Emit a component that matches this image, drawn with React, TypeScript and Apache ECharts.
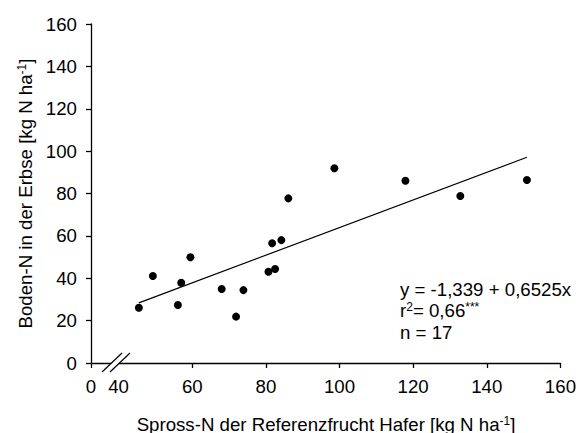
import React, { useEffect, useRef } from "react";
import * as echarts from "echarts";

const xValues = [45.5, 49.3, 56.1, 57.0, 59.5, 68.0, 71.9, 73.9, 80.7, 82.5, 81.7, 84.2, 86.1, 98.6, 117.9, 132.8, 150.9];
const yValues = [26.1, 41.1, 27.4, 37.9, 49.9, 34.9, 21.9, 34.4, 43.1, 44.4, 56.5, 58.0, 77.7, 91.9, 86.0, 78.8, 86.4];
const fitX = [45.5, 150.9];
const fitY = [28.4, 97.1];
const xMin = 32.5;
const xTickLabels = [xMin, 40, 60, 80, 100, 120, 140, 160];
const xTicks = [xMin, 60, 80, 100, 120, 140, 160];
const xTitle = "Spross-N der Referenzfrucht Hafer [kg N ha";
const yTitle = "Boden-N in der Erbse [kg N ha";
const equationLines = ["y = -1,339 + 0,6525x", "r²= 0,66***", "n = 17"];

const FONT = "'Liberation Sans', Arial, sans-serif";
const FS = 18.67;
const SUP = 12;

export default function App() {
  const ref = useRef<HTMLDivElement>(null);
  useEffect(() => {
    document.body.style.margin = "0";
    const chart = echarts.init(ref.current!, null, { renderer: "svg" });
    const points = xValues.map((x, i) => [x, yValues[i]]);
    const fit = fitX.map((x, i) => [x, fitY[i]]);
    const baseText = { fontFamily: FONT, fontSize: FS, color: "#000" };
    const rich = {
      n: { fontFamily: FONT, fontSize: FS, fill: "#000" },
      s: { fontFamily: FONT, fontSize: SUP, fill: "#000", verticalAlign: "top" },
    };
    chart.setOption({
      animation: false,
      backgroundColor: "#fff",
      grid: { left: 91, right: 18, top: 24, bottom: 70, containLabel: false },
      xAxis: {
        type: "value",
        min: xMin,
        max: 160,
        axisLine: { show: true, onZero: false, lineStyle: { color: "#000", width: 1.3 } },
        axisTick: { show: true, length: 5, customValues: xTicks, lineStyle: { color: "#000", width: 1.3 } },
        axisLabel: {
          ...baseText,
          margin: 14,
          customValues: xTickLabels,
          formatter: (v: number) => (v < 39 ? "0" : String(Math.round(v))),
        },
        splitLine: { show: false },
      },
      yAxis: {
        type: "value",
        min: 0,
        max: 160,
        interval: 20,
        axisLine: { show: true, lineStyle: { color: "#000", width: 1.3 } },
        axisTick: { show: true, length: 5, lineStyle: { color: "#000", width: 1.3 } },
        axisLabel: { ...baseText, margin: 14 },
        splitLine: { show: false },
      },
      series: [
        {
          type: "line",
          data: fit,
          symbol: "none",
          lineStyle: { color: "#000", width: 1.2 },
          z: 2,
        },
        {
          type: "scatter",
          data: points,
          symbol: "circle",
          symbolSize: 8,
          itemStyle: { color: "#000", opacity: 1 },
          z: 3,
        },
      ],
      graphic: [
        {
          type: "polygon",
          z: 100,
          shape: { points: [[102, 372], [122, 353], [130, 353], [110, 372]] },
          style: { fill: "#fff" },
        },
        { type: "line", z: 101, shape: { x1: 102, y1: 372, x2: 122, y2: 353 }, style: { stroke: "#000", lineWidth: 1.2 } },
        { type: "line", z: 101, shape: { x1: 110, y1: 372, x2: 130, y2: 353 }, style: { stroke: "#000", lineWidth: 1.2 } },
        {
          type: "text",
          x: 326,
          y: 424,
          z: 100,
          style: {
            text: `{n|${xTitle}}{s|-1}{n|]}`,
            align: "center",
            verticalAlign: "middle",
            rich,
          },
        },
        {
          type: "text",
          x: 25.5,
          y: 193.5,
          rotation: Math.PI / 2,
          z: 100,
          style: {
            text: `{n|${yTitle}}{s|-1}{n|]}`,
            align: "center",
            verticalAlign: "middle",
            rich,
          },
        },
        {
          type: "text",
          x: 400,
          y: 289.5,
          z: 100,
          style: { text: equationLines[0], font: `${FS}px ${FONT}`, fill: "#000", verticalAlign: "middle" },
        },
        {
          type: "text",
          x: 400,
          y: 310.5,
          z: 100,
          style: {
            text: "{n|r}{s|2}{n|= 0,66}{s|***}",
            verticalAlign: "middle",
            rich,
          },
        },
        {
          type: "text",
          x: 400,
          y: 332.5,
          z: 100,
          style: { text: equationLines[2], font: `${FS}px ${FONT}`, fill: "#000", verticalAlign: "middle" },
        },
      ],
    });
    return () => chart.dispose();
  }, []);
  return <div ref={ref} style={{ width: 579, height: 433 }} />;
}
